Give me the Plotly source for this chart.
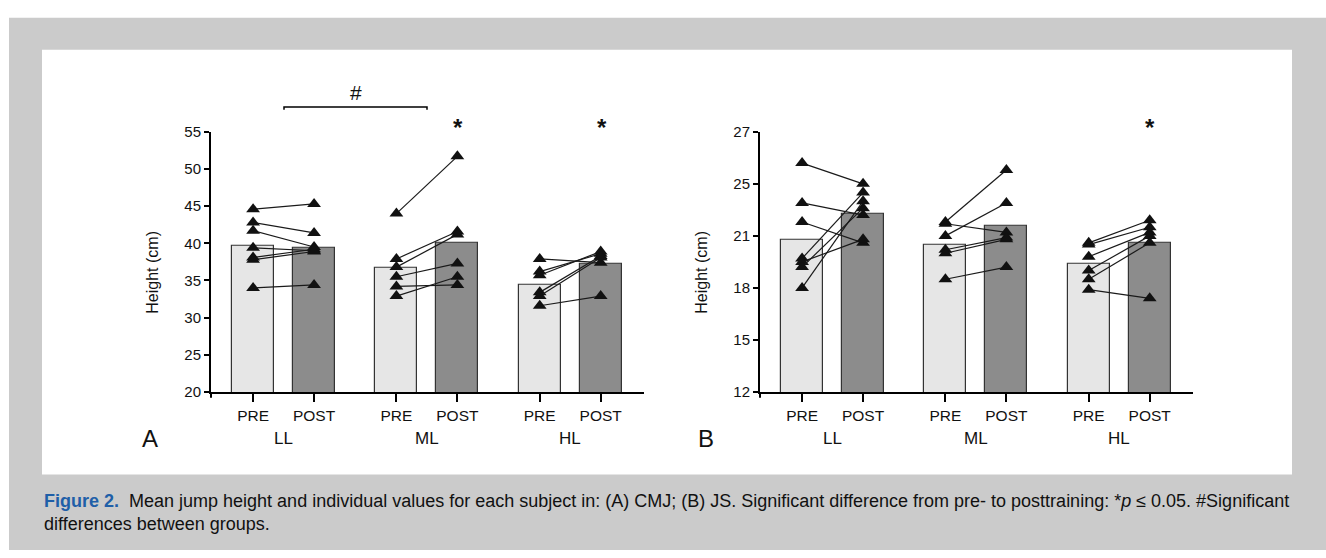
import plotly.graph_objects as go

W, H = 1326, 558

# ---- data -------------------------------------------------------------
groups = ["LL", "ML", "HL"]
phase_labels = ["PRE", "POST", "PRE", "POST", "PRE", "POST"]

# (A) CMJ height, cm
cmj_mean_pre = [39.6, 36.7, 34.4]
cmj_mean_post = [39.4, 40.1, 37.2]
cmj_ll_pre = [44.6, 42.8, 41.7, 39.4, 38.1, 37.8, 34.0]
cmj_ll_post = [45.3, 41.4, 39.5, 39.0, 39.2, 38.9, 34.4]
cmj_ml_pre = [44.0, 37.9, 36.8, 35.5, 34.2, 32.9]
cmj_ml_post = [51.7, 41.6, 41.2, 37.3, 34.4, 35.5]
cmj_hl_pre = [37.9, 36.2, 35.7, 33.4, 32.9, 31.6]
cmj_hl_post = [37.4, 38.6, 38.9, 38.3, 38.1, 32.9]
cmj_ticks = [20, 25, 30, 35, 40, 45, 50, 55]

# (B) JS height, cm
js_mean_pre = [20.8, 20.5, 19.4]
js_mean_post = [22.3, 21.6, 20.6]
js_ll_pre = [25.2, 22.9, 21.8, 19.7, 19.5, 19.2, 18.0]
js_ll_post = [24.0, 22.2, 20.6, 23.5, 20.8, 22.6, 23.0]
js_ml_pre = [21.8, 21.7, 21.0, 20.2, 20.0, 18.5]
js_ml_post = [24.8, 21.2, 22.9, 20.9, 20.8, 19.2]
js_hl_pre = [20.6, 20.5, 19.8, 19.0, 18.5, 17.9]
js_hl_post = [21.9, 21.5, 21.2, 21.0, 20.6, 17.4]
js_tickvals = [12, 15, 18, 21, 24, 27]
js_ticktext = ["12", "15", "18", "21", "25", "27"]

# ---- layout constants ---------------------------------------------------
FONT = "Liberation Sans, Arial, sans-serif"
PRE_X = [0.0, 2.35, 4.7]
POST_X = [1.0, 3.35, 5.7]
TICK_X = [0.0, 1.0, 2.35, 3.35, 4.7, 5.7]
BAR_W = 0.69
X_RANGE = [-0.69, 6.41]
PRE_FILL = "#e6e6e6"
POST_FILL = "#8c8c8c"
EDGE = "#333333"


def px(x):
    return x / W


def py(y):
    return 1 - y / H


fig = go.Figure()


def add_panel(xa, ya, mean_pre, mean_post, pairs):
    fig.add_trace(go.Bar(x=PRE_X, y=mean_pre, width=BAR_W, xaxis=xa, yaxis=ya,
                         marker=dict(color=PRE_FILL, line=dict(color=EDGE, width=1.2)),
                         showlegend=False, hoverinfo="skip"))
    fig.add_trace(go.Bar(x=POST_X, y=mean_post, width=BAR_W, xaxis=xa, yaxis=ya,
                         marker=dict(color=POST_FILL, line=dict(color=EDGE, width=1.2)),
                         showlegend=False, hoverinfo="skip"))
    for gi, (pre_vals, post_vals) in enumerate(pairs):
        for a, b in zip(pre_vals, post_vals):
            fig.add_trace(go.Scatter(
                x=[PRE_X[gi], POST_X[gi]], y=[a, b], xaxis=xa, yaxis=ya,
                mode="lines+markers",
                line=dict(color="#1a1a1a", width=1.2),
                marker=dict(symbol="triangle-up", size=12, color="#111111"),
                showlegend=False, hoverinfo="skip"))


add_panel("x", "y", cmj_mean_pre, cmj_mean_post,
          [(cmj_ll_pre, cmj_ll_post), (cmj_ml_pre, cmj_ml_post), (cmj_hl_pre, cmj_hl_post)])
add_panel("x2", "y2", js_mean_pre, js_mean_post,
          [(js_ll_pre, js_ll_post), (js_ml_pre, js_ml_post), (js_hl_pre, js_hl_post)])

# axis geometry in pixels
A_LEFT, B_LEFT, AX_W = 211, 760, 433
Y_BOT, Y_TOP = 395, 126.7

xcommon = dict(range=X_RANGE, showgrid=False, zeroline=False, showline=True,
               linecolor="black", linewidth=2, ticks="outside", ticklen=8,
               tickwidth=1.5, tickcolor="black", tickvals=TICK_X,
               ticktext=phase_labels, tickfont=dict(family=FONT, size=15.5, color="#111"),
               fixedrange=True)
ycommon = dict(showgrid=False, zeroline=False, showline=True, linecolor="black",
               linewidth=2, ticks="outside", ticklen=5, tickwidth=1.5,
               tickcolor="black", tickfont=dict(family=FONT, size=15, color="#111"),
               domain=[py(Y_BOT), py(Y_TOP)], fixedrange=True)

fig.update_layout(
    width=W, height=H, margin=dict(l=0, r=0, t=0, b=0),
    paper_bgcolor="white", plot_bgcolor="rgba(0,0,0,0)",
    bargap=0,
    xaxis=dict(domain=[px(A_LEFT), px(A_LEFT + AX_W)], anchor="y", **xcommon),
    yaxis=dict(range=[20, 55], tickvals=cmj_ticks, anchor="x", **ycommon),
    xaxis2=dict(domain=[px(B_LEFT), px(B_LEFT + AX_W)], anchor="y2", **xcommon),
    yaxis2=dict(range=[12, 27], tickvals=js_tickvals, ticktext=js_ticktext,
                anchor="x2", **ycommon),
)

shapes = [
    # grey page and white figure panel
    dict(type="rect", xref="paper", yref="paper", x0=px(9), x1=1, y0=0, y1=py(9),
         fillcolor="#cbcbcb", line=dict(width=0), layer="below"),
    dict(type="rect", xref="paper", yref="paper", x0=px(42), x1=px(1292),
         y0=py(480), y1=py(42), fillcolor="white", line=dict(width=0), layer="below"),
    # significance bracket between LL and ML
    dict(type="path", xref="paper", yref="paper",
         path=f"M {px(284)},{py(104)} L {px(284)},{py(101)} L {px(427)},{py(101)} L {px(427)},{py(104)}",
         line=dict(color="black", width=1.5)),
]
# short downward extension of each y-axis below the x-axis
for xl in (A_LEFT, B_LEFT):
    shapes.append(dict(type="line", xref="paper", yref="paper",
                       x0=px(xl), x1=px(xl), y0=py(Y_BOT), y1=py(Y_BOT + 6),
                       line=dict(color="black", width=2)))
fig.update_layout(shapes=shapes)

ann = []


def text(x, y, s, size, **kw):
    d = dict(x=px(x), y=py(y), xref="paper", yref="paper", text=s, showarrow=False,
             font=dict(family=FONT, size=size, color=kw.pop("color", "#111")),
             xanchor=kw.pop("xanchor", "center"), yanchor=kw.pop("yanchor", "middle"))
    d.update(kw)
    ann.append(d)


# axis titles
text(A_LEFT - 58, 272, "Height (cm)", 16, textangle=-90)
text(B_LEFT - 58, 272, "Height (cm)", 16, textangle=-90)

# group labels under each pair of bars
for left in (A_LEFT, B_LEFT):
    unit = AX_W / (X_RANGE[1] - X_RANGE[0])
    for g, a, b in zip(groups, PRE_X, POST_X):
        xc = left + ((a + b) / 2 - X_RANGE[0]) * unit
        text(xc, 443, g, 17)

# panel letters
text(150, 443, "A", 24)
text(706, 443, "B", 24)

# significance markers
text(356, 86, "#", 21)
for xs in (458, 602, 1150):
    text(xs, 122, "<b>*</b>", 24)

# caption
text(42, 507, "<span style='color:#1f5fa8'><b>Figure 2.</b></span>  Mean jump height and individual values for each subject in: "
     "(A) CMJ; (B) JS. Significant difference from pre- to posttraining: *<i>p</i> ≤ 0.05. "
     "#Significant", 18, xanchor="left", color="#111")
text(42, 531, "differences between groups.", 18, xanchor="left", color="#111")

fig.update_layout(annotations=ann)

fig.write_html("out.html")
